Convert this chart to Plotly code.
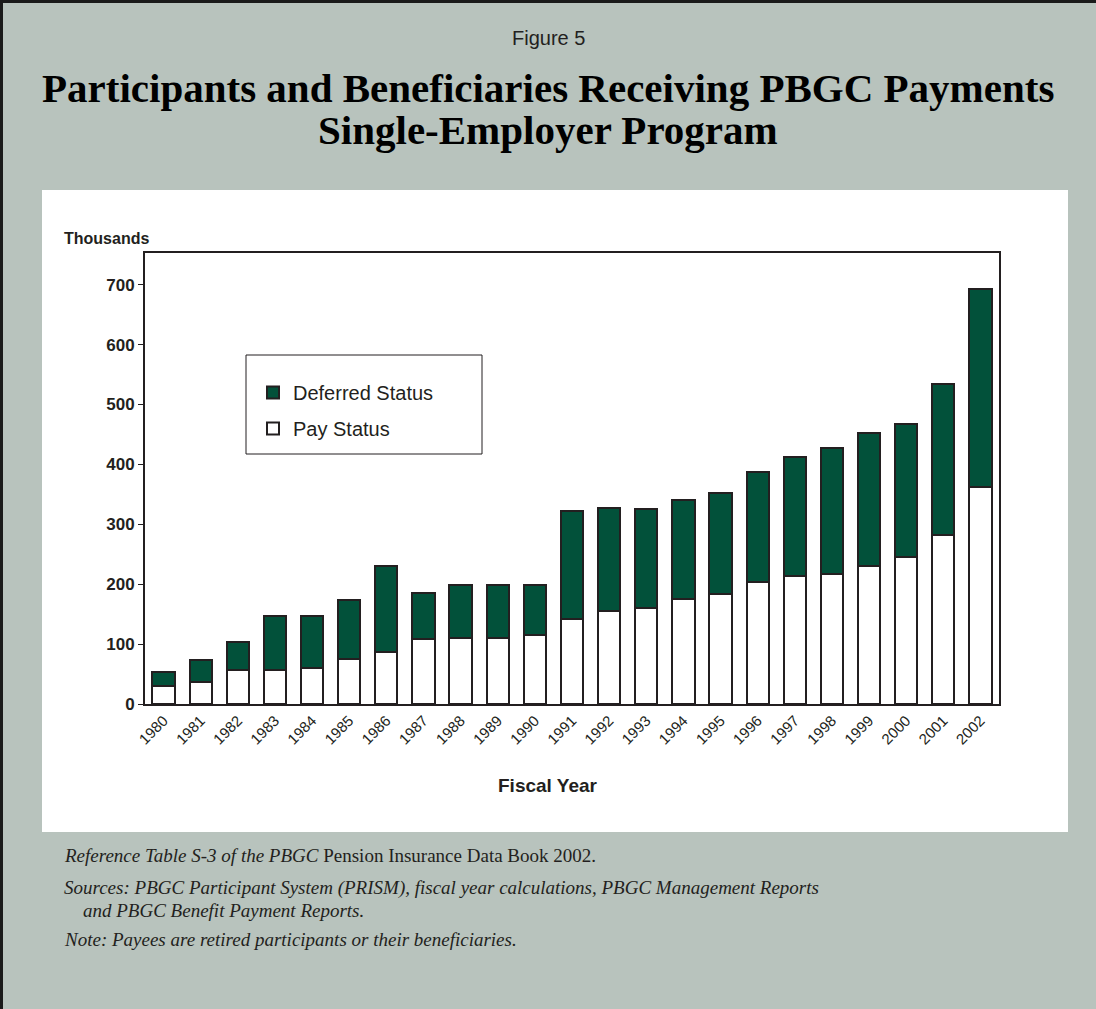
import plotly.graph_objects as go

years = [str(y) for y in range(1980, 2003)]
pay_status = [30, 37, 57, 56, 60, 75, 87, 109, 111, 111, 116, 142, 156, 160, 175, 184, 203, 213, 217, 230, 245, 283, 362]
total = [53, 74, 104, 147, 147, 174, 231, 186, 199, 199, 199, 322, 327, 325, 341, 353, 387, 413, 427, 453, 467, 535, 693]
deferred_status = [t - p for t, p in zip(total, pay_status)]
y_ticks = [0, 100, 200, 300, 400, 500, 600, 700]

W, H = 1096, 1009
L, R, T, B = 145, 97, 253, 305
PW, PH = W - L - R, H - T - B
PLOT_BOTTOM = H - B


def px(x):
    return (x - L) / PW


def py(y):
    return (PLOT_BOTTOM - y) / PH


INK = "#231F20"
GREEN = "#02513A"
BG = "#B8C3BD"
SERIF = "Liberation Serif, Times New Roman, serif"
SANS = "Liberation Sans, Arial, sans-serif"

fig = go.Figure()
fig.add_trace(go.Bar(x=years, y=pay_status, name="Pay Status", legendgroup="pay", legendrank=2,
                     marker=dict(color="white", line=dict(color=INK, width=2))))
fig.add_trace(go.Bar(x=years, y=deferred_status, name="Deferred Status", legendgroup="def", legendrank=1,
                     marker=dict(color=GREEN, line=dict(color=INK, width=2))))

shapes = [
    dict(type="rect", xref="paper", yref="paper", x0=px(42), x1=px(1068), y0=py(832), y1=py(190),
         fillcolor="white", line=dict(width=0), layer="below"),
    dict(type="rect", xref="paper", yref="paper", x0=px(0), x1=px(3), y0=py(1009), y1=py(0),
         fillcolor="#1a1a1a", line=dict(width=0), layer="above"),
    dict(type="rect", xref="paper", yref="paper", x0=px(0), x1=px(1096), y0=py(3), y1=py(0),
         fillcolor="#1a1a1a", line=dict(width=0), layer="above"),
    dict(type="rect", xref="paper", yref="paper", x0=px(246), x1=px(482), y0=py(454), y1=py(355),
         fillcolor="rgba(0,0,0,0)", line=dict(color=INK, width=1), layer="above"),
]


def note(text, x, y, size=19, family=SERIF, anchor="left", color=INK):
    return dict(text=text, x=px(x), y=py(y), xref="paper", yref="paper", showarrow=False,
                font=dict(family=family, size=size, color=color), xanchor=anchor, yanchor="middle")


annotations = [
    note("Figure 5", 548, 38, size=20, family=SANS, anchor="center"),
    note("<b>Participants and Beneficiaries Receiving PBGC Payments</b>", 548, 88, size=41, anchor="center", color="black"),
    note("<b>Single-Employer Program</b>", 548, 130, size=41, anchor="center", color="black"),
    note("<b>Thousands</b>", 62, 238, size=16, family=SANS),
    note("<b>Fiscal Year</b>", 548, 785, size=19, family=SANS, anchor="center"),
    note("<i>Reference Table S-3 of the PBGC</i> Pension Insurance Data Book 2002.", 62, 855),
    note("<i>Sources: PBGC Participant System (PRISM), fiscal year calculations, PBGC Management Reports</i>", 62, 888),
    note("<i>and PBGC Benefit Payment Reports.</i>", 81, 910),
    note("<i>Note: Payees are retired participants or their beneficiaries.</i>", 62, 939),
]

fig.update_layout(
    width=W, height=H,
    margin=dict(l=L, r=R, t=T, b=B, autoexpand=False),
    paper_bgcolor=BG, plot_bgcolor="white",
    barmode="stack", bargap=0.4,
    showlegend=True,
    legend=dict(x=px(253), y=py(373), xanchor="left", yanchor="top",
                bgcolor="rgba(0,0,0,0)", borderwidth=0,
                font=dict(family=SANS, size=20, color=INK),
                itemwidth=30, traceorder="grouped", tracegroupgap=7),
    shapes=shapes, annotations=annotations,
    xaxis=dict(type="category", showline=True, mirror=True, linecolor=INK, linewidth=2,
               tickangle=-45, ticks="", tickfont=dict(family=SANS, size=15, color=INK),
               showgrid=False, zeroline=False),
    yaxis=dict(range=[0, 753], showline=True, mirror=True, linecolor=INK, linewidth=2,
               tickvals=y_ticks, ticktext=[f"<b>{v}</b>" for v in y_ticks],
               ticks="outside", ticklen=5, tickcolor=INK, tickwidth=1,
               tickfont=dict(family=SANS, size=17, color=INK),
               showgrid=False, zeroline=False),
)

fig.write_html("out.html", config={"displayModeBar": False},
               post_script="document.body.style.margin='0';document.body.style.overflow='hidden';")
